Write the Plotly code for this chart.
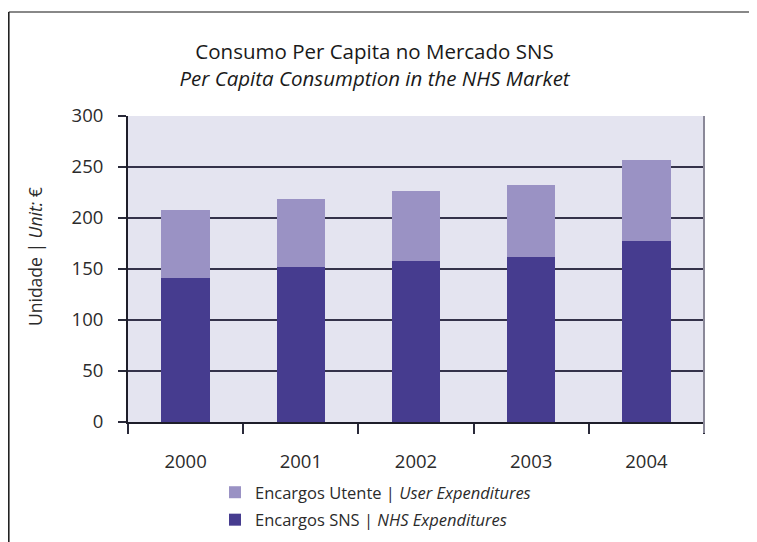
import plotly.graph_objects as go

years = ["2000", "2001", "2002", "2003", "2004"]
sns_values = [141, 152, 158, 162, 177]
utente_values = [67, 67, 68, 70, 80]
y_ticks = [0, 50, 100, 150, 200, 250, 300]

name_sns = "Encargos SNS | <i>NHS Expenditures</i>"
name_utente = "Encargos Utente | <i>User Expenditures</i>"

FONT = "Open Sans"
TXT = "#2b2b2b"

# page body has an 8px margin, so the figure is drawn 8px smaller
W, H = 749, 534
L, R, T, B = 120, 53, 108, 120
PW, PH = W - L - R, H - T - B


def px(x):
    return (x - L) / PW


def py(y):
    return (H - B - y) / PH


fig = go.Figure()
fig.add_trace(go.Bar(x=years, y=sns_values, name=name_sns, legendgroup="b", legendrank=2,
                     marker=dict(color="#463c8f", line=dict(width=0))))
fig.add_trace(go.Bar(x=years, y=utente_values, name=name_utente, legendgroup="a", legendrank=1,
                     marker=dict(color="#9a92c4", line=dict(width=0))))

fig.update_layout(
    width=W, height=H,
    margin=dict(l=L, r=R, t=T, b=B, autoexpand=False),
    paper_bgcolor="white",
    plot_bgcolor="#e4e4f0",
    barmode="stack",
    bargap=0.58,
    font=dict(family=FONT, size=16.5, color=TXT),
    showlegend=True,
    legend=dict(x=px(207), y=py(467), xanchor="left", yanchor="top",
                traceorder="grouped", orientation="v",
                font=dict(size=16.5, color=TXT), bgcolor="rgba(0,0,0,0)",
                itemwidth=30, tracegroupgap=3),
    xaxis=dict(type="category", showgrid=False, showline=True, automargin=False,
               linecolor="#1e1e2a", linewidth=2,
               ticks="outside", tickson="boundaries", ticklen=10,
               tickcolor="#2a2a3a", tickwidth=1.5,
               ticklabelstandoff=22,
               tickfont=dict(size=18.5, color=TXT), mirror=False),
    yaxis=dict(range=[0, 300], tickvals=y_ticks, showgrid=True, automargin=False,
               gridcolor="#34324a", gridwidth=1.5,
               showline=True, linecolor="#1e1e2a", linewidth=2,
               ticks="outside", ticklen=8, tickcolor="#2a2a3a", tickwidth=1.5,
               ticklabelstandoff=11,
               tickfont=dict(size=18.5, color=TXT),
               zeroline=False),
    title=dict(text="Consumo Per Capita no Mercado SNS<br><i>Per Capita Consumption in the NHS Market</i>",
               x=366.5 / W, xref="container", xanchor="center",
               y=(H - 51) / H, yref="container", yanchor="middle",
               font=dict(size=20.5, color="#1a1a1a", family=FONT)),
    annotations=[
        dict(text="Unidade | <i>Unit:</i> €", textangle=-90, showarrow=False,
             xref="paper", yref="paper", x=px(27), y=py(249),
             xanchor="center", yanchor="middle",
             font=dict(size=17.5, color=TXT)),
    ],
    shapes=[
        # right border of plot area
        dict(type="line", xref="paper", yref="paper", x0=1, x1=1, y0=py(H - B + 11), y1=1,
             line=dict(color="#8a8898", width=2), layer="above"),
        # outer frame: top and left
        dict(type="line", xref="paper", yref="paper", x0=px(0.8), x1=px(W + 5), y0=py(4), y1=py(4),
             line=dict(color="#888888", width=2)),
        dict(type="line", xref="paper", yref="paper", x0=px(0.8), x1=px(0.8), y0=py(4), y1=py(H + 5),
             line=dict(color="#222222", width=1.6)),
    ],
)

fig.write_html("out.html")
